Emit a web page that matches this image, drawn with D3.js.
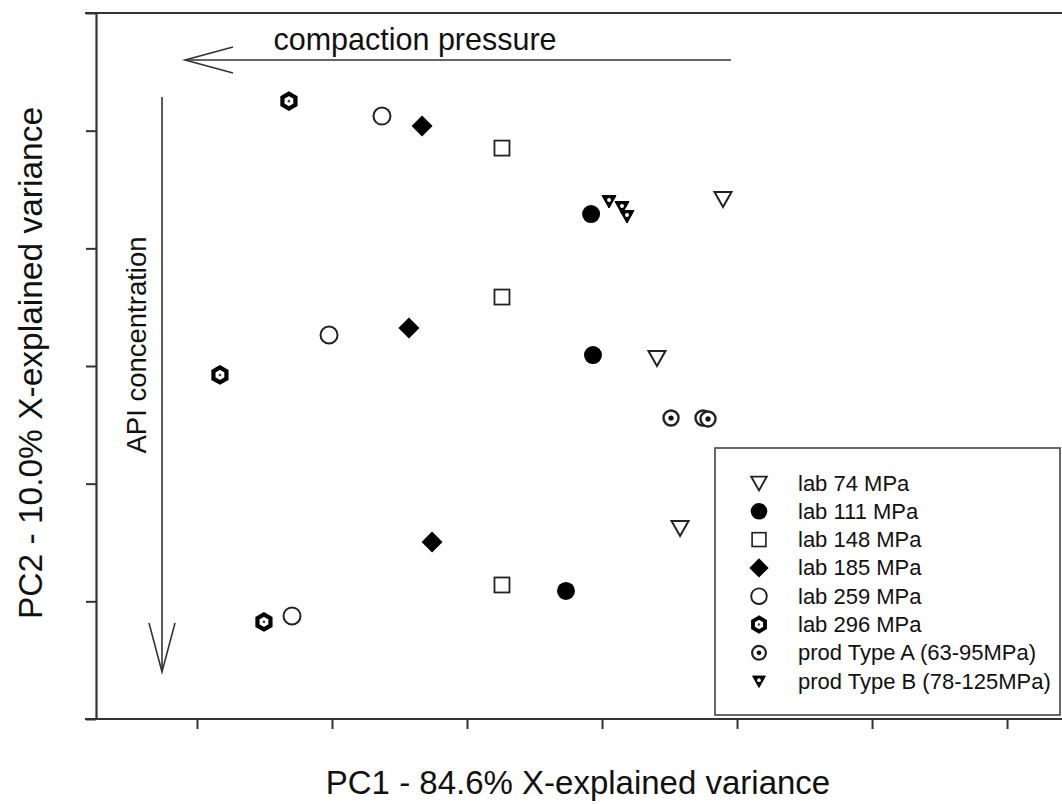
<!DOCTYPE html>
<html>
<head>
<meta charset="utf-8">
<script src="https://cdn.jsdelivr.net/npm/d3@7"></script>
<style>
  html, body { margin: 0; padding: 0; background: #fff; }
  svg { display: block; font-family: "Liberation Sans", Arial, sans-serif; }
</style>
</head>
<body>
<svg id="chart" width="1062" height="804"></svg>
<script>
// PCA score plot: PC1 vs PC2, scores per compaction group
const groups = ["lab 74 MPa", "lab 111 MPa", "lab 148 MPa", "lab 185 MPa",
                "lab 259 MPa", "lab 296 MPa", "prod Type A (63-95MPa)", "prod Type B (78-125MPa)"];

const lab74PC1  = [0.896, 0.407, 0.578];
const lab74PC2  = [1.419, 0.068, -1.376];
const lab111PC1 = [-0.081, -0.067, -0.267];
const lab111PC2 = [1.291, 0.093, -1.912];
const lab148PC1 = [-0.741, -0.741, -0.741];
const lab148PC2 = [1.852, 0.586, -1.861];
const lab185PC1 = [-1.333, -1.430, -1.259];
const lab185PC2 = [2.039, 0.323, -1.495];
const lab259PC1 = [-1.630, -2.022, -2.296];
const lab259PC2 = [2.124, 0.263, -2.124];
const lab296PC1 = [-2.319, -2.830, -2.504];
const lab296PC2 = [2.251, -0.076, -2.175];
const prodAPC1  = [0.511, 0.748, 0.785];
const prodAPC2  = [-0.442, -0.442, -0.450];
const prodBPC1  = [0.052, 0.148, 0.185];
const prodBPC2  = [1.402, 1.351, 1.274];

const xTicks = [-3, -2, -1, 0, 1, 2, 3];
const yTicks = [-3, -2, -1, 0, 1, 2, 3];

const seriesPC1 = [lab74PC1, lab111PC1, lab148PC1, lab185PC1, lab259PC1, lab296PC1, prodAPC1, prodBPC1];
const seriesPC2 = [lab74PC2, lab111PC2, lab148PC2, lab185PC2, lab259PC2, lab296PC2, prodAPC2, prodBPC2];
const markerKinds = ["triDownOpen", "circleFilled", "squareOpen", "diamondFilled",
                     "circleOpen", "hexBold", "circleDot", "triDownSmall"];

const svg = d3.select("#chart");
const x = d3.scaleLinear().domain([-3.748, 3.407]).range([96, 1062]);
const y = d3.scaleLinear().domain([-3, 3]).range([719, 13]);

const ink = "#222";

// frame lines (top, bottom)
svg.append("line").attr("x1", 85).attr("x2", 1062).attr("y1", y(3)).attr("y2", y(3))
  .attr("stroke", "#333").attr("stroke-width", 2.2);
svg.append("line").attr("x1", 85).attr("x2", 1062).attr("y1", y(-3)).attr("y2", y(-3))
  .attr("stroke", "#333").attr("stroke-width", 2.2);

// axes with blank tick labels
const xAxis = d3.axisBottom(x).tickValues(xTicks).tickFormat("").tickSize(10).tickSizeOuter(0);
const gx = svg.append("g").attr("transform", `translate(0,${y(-3)})`).call(xAxis);
gx.select(".domain").remove();
gx.selectAll(".tick line").attr("stroke", "#333").attr("stroke-width", 2);

const yAxis = d3.axisLeft(y).tickValues(yTicks).tickFormat("").tickSize(10).tickSizeOuter(0);
const gy = svg.append("g").attr("transform", `translate(96,0)`).call(yAxis);
gy.select(".domain").attr("stroke", "#333").attr("stroke-width", 2.2);
gy.selectAll(".tick line").attr("stroke", "#333").attr("stroke-width", 2);

// annotation arrows
const arrow = svg.append("g").attr("stroke", "#333").attr("stroke-width", 1.6).attr("fill", "none");
arrow.append("line").attr("x1", 185).attr("y1", 60).attr("x2", 731).attr("y2", 60);
arrow.append("polyline").attr("points", "233,47 185,60 233,73");
arrow.append("line").attr("x1", 162).attr("y1", 97).attr("x2", 162).attr("y2", 672);
arrow.append("polyline").attr("points", "149,623 162,672 175,623");

svg.append("text").attr("x", 415).attr("y", 50).attr("text-anchor", "middle")
  .attr("font-size", 30.5).attr("fill", "#111").text("compaction pressure");
svg.append("text").attr("transform", "translate(146,345) rotate(-90)").attr("text-anchor", "middle")
  .attr("font-size", 27.5).attr("fill", "#111").text("API concentration");

// axis titles
svg.append("text").attr("x", 578).attr("y", 794).attr("text-anchor", "middle")
  .attr("font-size", 33).attr("fill", "#111").text("PC1 - 84.6% X-explained variance");
svg.append("text").attr("transform", "translate(42,363) rotate(-90)").attr("text-anchor", "middle")
  .attr("font-size", 33.5).attr("fill", "#111").text("PC2 - 10.0% X-explained variance");

// marker drawing
function hexPath(r) {
  const pts = d3.range(6).map(i => {
    const a = Math.PI / 2 + i * Math.PI / 3;
    return [r * Math.cos(a), -r * Math.sin(a)];
  });
  return "M" + pts.map(p => p.join(",")).join("L") + "Z";
}
function drawMarker(g, kind) {
  switch (kind) {
    case "triDownOpen":
      g.append("path").attr("d", "M-8.5,-7L8.5,-7L0,8Z").attr("fill", "#fff")
        .attr("stroke", ink).attr("stroke-width", 2);
      break;
    case "circleFilled":
      g.append("circle").attr("r", 9).attr("fill", "#000");
      break;
    case "squareOpen":
      g.append("rect").attr("x", -7.5).attr("y", -7.5).attr("width", 15).attr("height", 15)
        .attr("fill", "#fff").attr("stroke", ink).attr("stroke-width", 1.8);
      break;
    case "diamondFilled":
      g.append("path").attr("d", "M0,-10.5L10.5,0L0,10.5L-10.5,0Z").attr("fill", "#000");
      break;
    case "circleOpen":
      g.append("circle").attr("r", 8.5).attr("fill", "#fff").attr("stroke", ink).attr("stroke-width", 2);
      break;
    case "hexBold":
      g.append("path").attr("d", hexPath(7.5)).attr("fill", "#fff").attr("stroke", "#000")
        .attr("stroke-width", 4.2);
      g.append("circle").attr("r", 1.3).attr("fill", "#444");
      break;
    case "circleDot":
      g.append("circle").attr("r", 7.5).attr("fill", "#fff").attr("stroke", ink).attr("stroke-width", 2.4);
      g.append("circle").attr("r", 2.6).attr("fill", "#111");
      break;
    case "triDownSmall":
      g.append("path").attr("d", "M-7,-5.5L7,-5.5L0,7Z").attr("fill", "#000")
        .attr("stroke", "#000").attr("stroke-width", 1);
      g.append("circle").attr("cy", -1).attr("r", 2).attr("fill", "#fff");
      break;
  }
}

const points = svg.append("g");
seriesPC1.forEach((xs, s) => {
  xs.forEach((v, i) => {
    const g = points.append("g").attr("transform", `translate(${x(v)},${y(seriesPC2[s][i])})`);
    drawMarker(g, markerKinds[s]);
  });
});

// legend
const legend = svg.append("g");
legend.append("rect").attr("x", 715).attr("y", 448).attr("width", 345).attr("height", 267)
  .attr("fill", "#fff").attr("stroke", "#444").attr("stroke-width", 1.6);
groups.forEach((name, i) => {
  const ly = 483 + i * 28.3;
  const g = legend.append("g").attr("transform", `translate(759,${ly})`);
  drawMarker(g.append("g").attr("transform", "scale(0.92)"), markerKinds[i]);
  legend.append("text").attr("x", 798).attr("y", ly + 7.5).attr("font-size", 22)
    .attr("fill", "#111").text(name);
});
</script>
</body>
</html>
